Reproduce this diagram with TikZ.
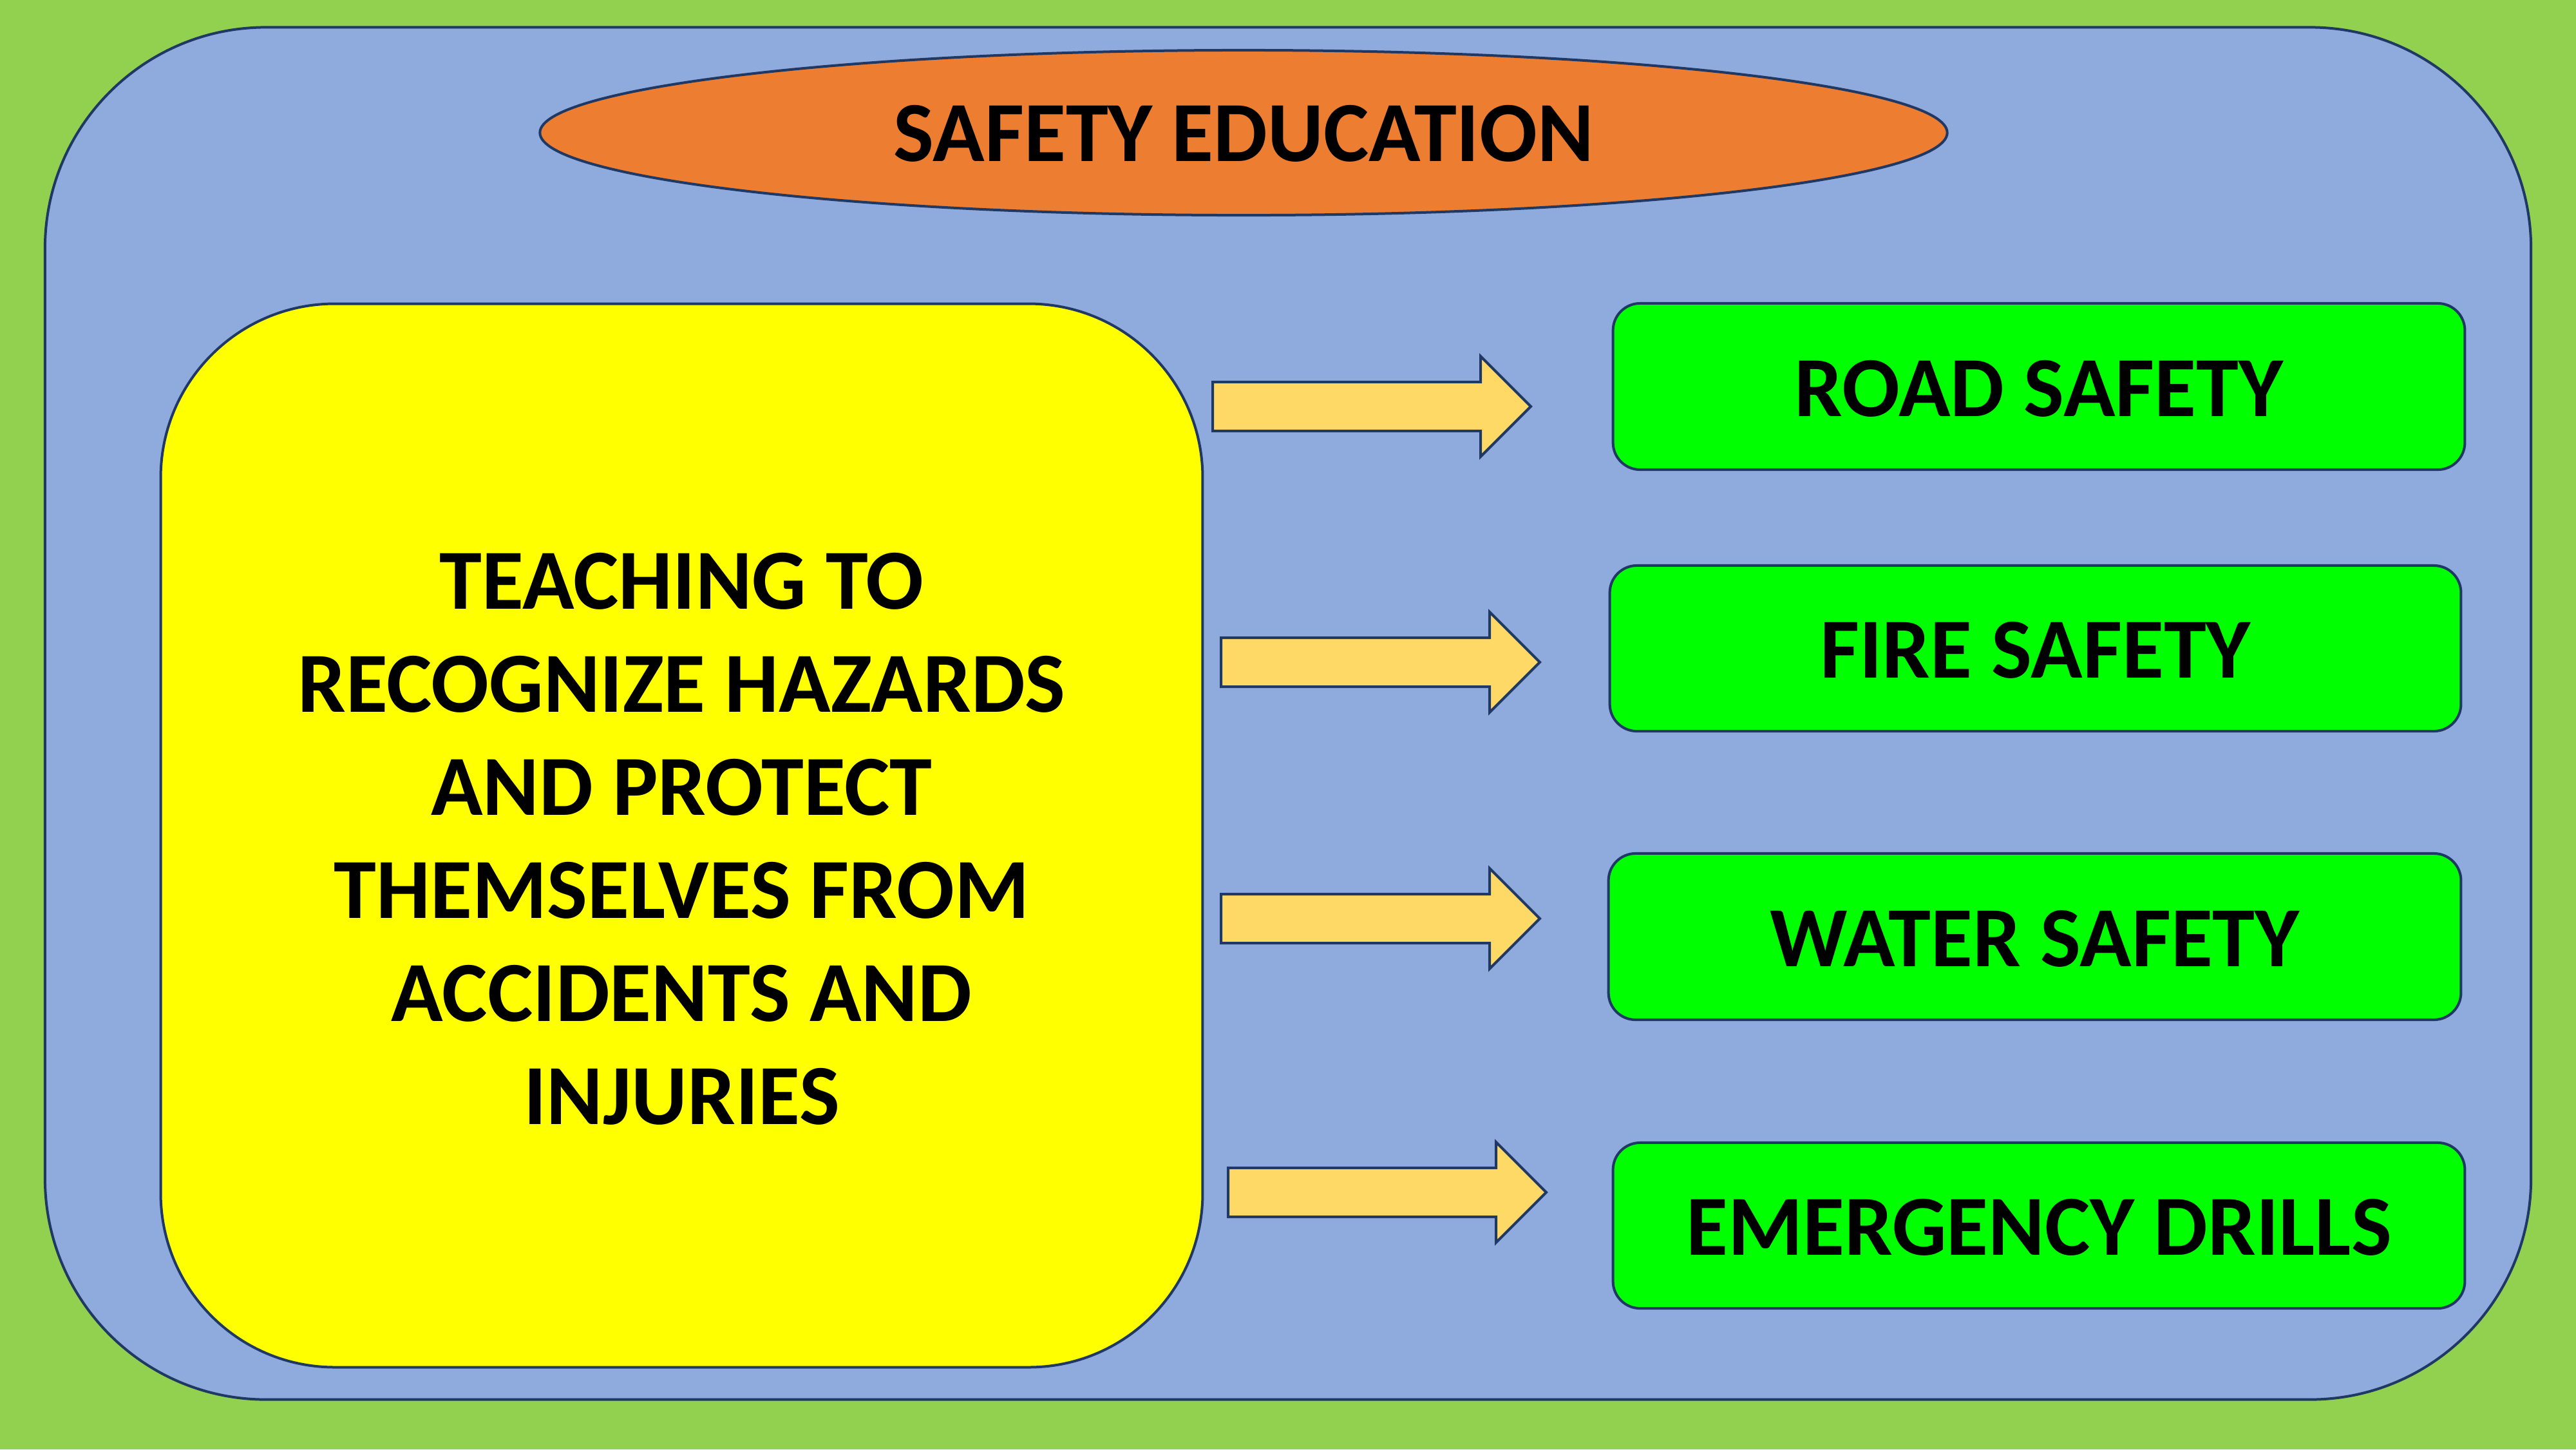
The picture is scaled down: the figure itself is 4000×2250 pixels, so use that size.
\documentclass[tikz,border=0pt]{standalone}
\usepackage{fontspec}
\setmainfont{Carlito}
\usetikzlibrary{shapes.geometric}
\definecolor{bggreen}{HTML}{92D050}
\definecolor{panelblue}{HTML}{8FAADC}
\definecolor{titleorange}{HTML}{ED7D31}
\definecolor{boxyellow}{HTML}{FFFF00}
\definecolor{boxgreen}{HTML}{00FF00}
\definecolor{arrowfill}{HTML}{FFD966}
\definecolor{edgeblue}{HTML}{1F3864}
\tikzset{
  edged/.style={draw=edgeblue, line width=0.4mm},
  panel/.style={edged, fill=panelblue, rounded corners=3.43cm, minimum width=38.58cm, minimum height=21.29cm, inner sep=0pt},
  titleoval/.style={edged, fill=titleorange, ellipse, minimum width=21.84cm, minimum height=2.56cm, inner sep=0pt,
    text height=0.89cm, text depth=0cm, font=\bfseries\fontsize{37.8}{45}\selectfont},
  mainbox/.style={edged, fill=boxyellow, rounded corners=2.7cm, minimum width=16.17cm, minimum height=16.5cm, inner sep=0pt},
  maintextstyle/.style={inner sep=0pt, align=center, font=\bfseries\fontsize{37.8}{45.5}\selectfont},
  topicbox/.style={edged, fill=boxgreen, rounded corners=0.42cm, minimum width=13.22cm, minimum height=2.58cm, inner sep=0pt,
    text height=0.92cm, text depth=0cm, font=\bfseries\fontsize{37.8}{45}\selectfont},
  blockarrow/.style={edged, fill=arrowfill, line join=miter}
}
\newcommand\blockarr[4]{% left, headbase, tip, centre y
  \draw[blockarrow] (#1,#4-38) -- (#2,#4-38) -- (#2,#4-78) -- (#3,#4) -- (#2,#4+78) -- (#2,#4+38) -- (#1,#4+38) -- cycle;}
\begin{document}
\begin{tikzpicture}[x=0.01cm, y=-0.01cm]
\fill[bggreen] (0,0) rectangle (4000,2250);
\useasboundingbox (0,0) rectangle (4000,2250);
\node[panel] (panel) at (2000,1107.5) {};
\node[titleoval] (title) at (1931,206) {SAFETY EDUCATION};
\node[mainbox] (main) at (1058.5,1297) {};
\node[maintextstyle] (maintext) at (1058.5,1302) {TEACHING TO\\RECOGNIZE HAZARDS\\AND PROTECT\\THEMSELVES FROM\\ACCIDENTS AND\\INJURIES};
\node[topicbox] (road) at (3166,600) {ROAD SAFETY};
\node[topicbox, minimum width=13.21cm, minimum height=2.57cm] (fire) at (3160.5,1006.5) {FIRE SAFETY};
\node[topicbox, minimum width=13.23cm] (water) at (3159.5,1454) {WATER SAFETY};
\node[topicbox, minimum height=2.57cm] (drills) at (3166,1902.5) {EMERGENCY DRILLS};
\blockarr{1883}{2299}{2377}{631}
\blockarr{1896}{2313}{2391}{1028}
\blockarr{1896}{2313}{2391}{1426}
\blockarr{1907}{2323}{2401}{1851}
\end{tikzpicture}
\end{document}
